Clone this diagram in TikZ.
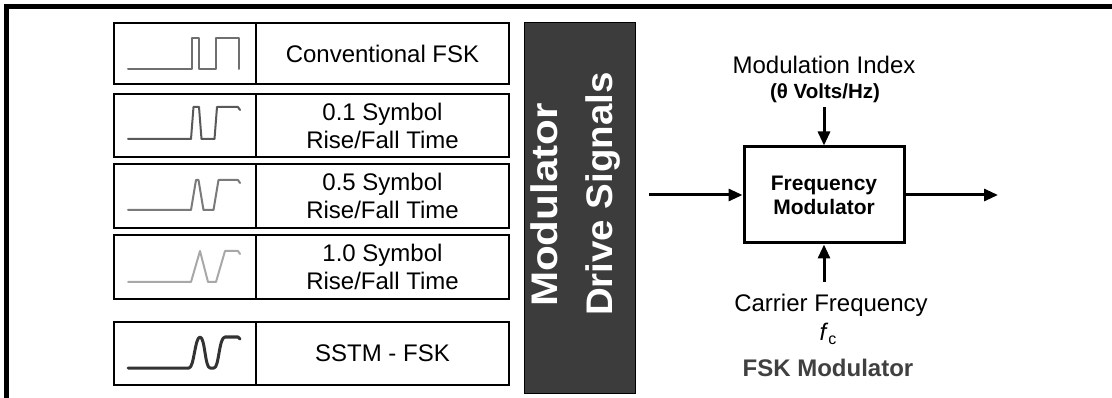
\documentclass[tikz,border=0pt]{standalone}
\usepackage{fontspec}
\setmainfont{Liberation Sans}
\usetikzlibrary{arrows.meta}

\definecolor{barfill}{HTML}{3C3C3C}
\definecolor{waveA}{HTML}{6F6F6F}
\definecolor{waveB}{HTML}{595959}
\definecolor{waveC}{HTML}{7A7A7A}
\definecolor{waveD}{HTML}{A8A8A8}
\definecolor{waveE}{HTML}{333333}
\definecolor{capgray}{HTML}{404040}

\begin{document}
\begin{tikzpicture}[x=1pt,y=-1pt,
  cellbox/.style={draw=black, line width=2pt, inner sep=0pt, anchor=north west},
  wave/.style={line width=2pt, line join=round, line cap=round},
  lbl/.style={font=\fontsize{24}{28}\selectfont, align=center, text=black, inner sep=0pt},
  bartext/.style={rotate=90, text=white, inner sep=0pt, anchor=base,
    font=\fontsize{37}{40}\selectfont\bfseries},
  arr/.style={line width=3pt, -{Triangle[length=14pt,width=12pt]}},
]
\useasboundingbox (0,0) rectangle (1112,398);
\clip (0,0) rectangle (1112,398);

% outer frame (only its top and left sides fall inside the page)
\draw[line width=5pt] (6.5,420) -- (6.5,6.5) -- (1130,6.5);

% ---- waveform table ----
\foreach \n/\top/\h in {1/22/61, 2/93/63, 3/163/64, 4/234/64, 5/321/63}{
  \node (w\n) [cellbox, minimum width=142pt, minimum height=\h pt] at (113,\top) {};
  \node (t\n) [cellbox, minimum width=253pt, minimum height=\h pt] at (255,\top) {};
}
\node[lbl] at (t1.center) {Conventional FSK};
\node[lbl] at (t2.center) {0.1 Symbol\\Rise/Fall Time};
\node[lbl] at (t3.center) {0.5 Symbol\\Rise/Fall Time};
\node[lbl] at (t4.center) {1.0 Symbol\\Rise/Fall Time};
\node[lbl] at (t5.center) {SSTM - FSK};

% conventional FSK: ideal square pulses
\draw[wave, color=waveA] (128,69) -- (192,69) -- (192,38) -- (199,38) -- (199,69)
  -- (216,69) -- (216,38) -- (239,38) -- (239,69);
% 0.1 symbol rise/fall
\draw[wave, color=waveB] (128,139) -- (191,139) -- (193.5,107) -- (199,107) -- (201.5,139)
  -- (214.5,139) -- (217,107) -- (238,107) -- (240,110);
% 0.5 symbol rise/fall
\draw[wave, color=waveC] (128,210) -- (191,210) -- (196,180) -- (198.5,180) -- (203.5,210)
  -- (213.5,210) -- (218.5,180) -- (238,180) -- (240,183);
% 1.0 symbol rise/fall
\draw[wave, color=waveD] (128,282) -- (191,282) -- (200,251) -- (208,282)
  -- (216,282) -- (225,251) -- (238,251) -- (240,254);
% SSTM: smooth transitions
\draw[wave, line width=3pt, color=waveE] (128,368) -- (189,368)
  .. controls (194,368) and (195,337) .. (200,337)
  .. controls (205,337) and (205,368) .. (210,368)
  -- (214,368)
  .. controls (219,368) and (219,337) .. (225,337)
  -- (238,337) -- (240,339);

% ---- drive-signal bar ----
\node (bar) [fill=barfill, draw=black, line width=1pt, minimum width=111pt,
  minimum height=371pt, inner sep=0pt, anchor=north west] at (524,22) {};
\node (bar1) [bartext] at (557,205) {\scalebox{1.14}[1]{Modulator}};
\node (bar2) [bartext] at (612,194) {\scalebox{1.04}[1]{Drive Signals}};

% ---- FSK modulator ----
\node (fm) [draw=black, line width=3pt, minimum width=160pt, minimum height=96pt,
  align=center, font=\fontsize{21}{24}\selectfont\bfseries] at (824,195)
  {Frequency\\Modulator};

\node (mi) [lbl] at (824,65) {Modulation Index};
\node (mu) [inner sep=0pt, font=\fontsize{20.5}{22}\selectfont\bfseries] at (825,93) {(θ Volts/Hz)};
\node (cf) [lbl] at (831,305) {Carrier Frequency};
\node (fc) [inner sep=0pt, font=\fontsize{24}{28}\selectfont] at (828,334)
  {\itshape f\/\upshape\raisebox{-0.35ex}{\fontsize{16}{16}\selectfont c}};
\node (cap) [inner sep=0pt, text=capgray, font=\fontsize{24}{28}\selectfont\bfseries] at (828,368) {FSK Modulator};

\coordinate (inA) at (649,195);
\coordinate (outA) at (998,195);
\coordinate (topA) at (824,107);
\coordinate (botA) at (824,282);
\draw[arr] (inA) -- (fm.west);
\draw[arr] (fm.east) -- (outA);
\draw[arr] (topA) -- (fm.north);
\draw[arr] (botA) -- (fm.south);
\end{tikzpicture}
\end{document}
